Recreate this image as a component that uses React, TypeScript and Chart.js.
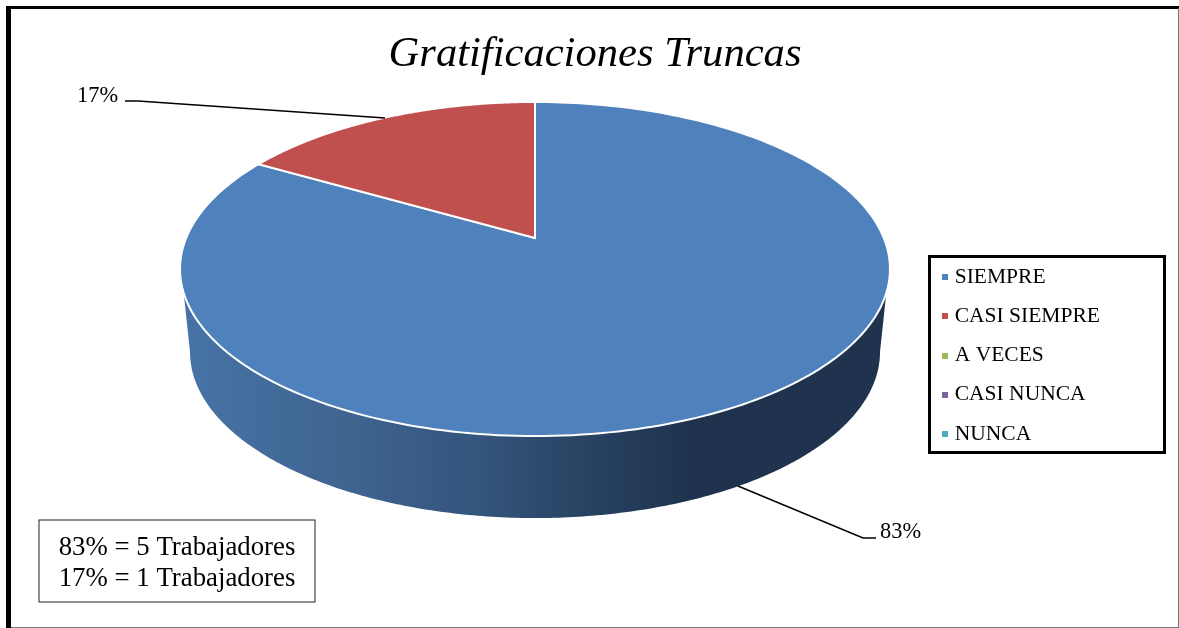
import React, { useEffect, useRef } from "react";
import { Chart, registerables } from "chart.js";

Chart.register(...registerables);

const TITLE = "Gratificaciones Truncas";
const CATEGORIES = ["SIEMPRE", "CASI SIEMPRE", "A VECES", "CASI NUNCA", "NUNCA"];
const WORKERS = [5, 1, 0, 0, 0];
const COLORS = ["#4F81BD", "#C0504D", "#9BBB59", "#8064A2", "#4BACC6"];
const SERIF = '"Liberation Serif", serif';

// perspective of the tilted disc: centre, half-width, half-depth, foreshortening
const TOP_DISC = { cx: 535, cy: 238, a: 348.8, k: 161.3, p: 0.1856 };
const BASE_DISC = { cx: 535, cy: 321.2, a: 339, k: 160.3, p: 0.1856 };

function project(d: typeof TOP_DISC, angle: number) {
  const s = Math.sin(angle);
  const w = 1 - d.p * s;
  return { x: d.cx + (d.a * Math.cos(angle)) / w, y: d.cy + (d.k * s) / w };
}

function traceArc(ctx: CanvasRenderingContext2D, d: typeof TOP_DISC, from: number, to: number, move: boolean) {
  const steps = 240;
  for (let i = 0; i <= steps; i++) {
    const q = project(d, from + ((to - from) * i) / steps);
    if (i === 0 && move) ctx.moveTo(q.x, q.y);
    else ctx.lineTo(q.x, q.y);
  }
}

function legendMarker(color: string) {
  const c = document.createElement("canvas");
  c.width = 14;
  c.height = 6;
  const g = c.getContext("2d")!;
  g.fillStyle = color;
  g.fillRect(6, 0, 6, 6);
  return c;
}

const pct = (i: number) => {
  const total = WORKERS.reduce((a, b) => a + b, 0);
  return Math.round((WORKERS[i] / total) * 100);
};

const pieDecor = {
  id: "pieDecor",
  afterLayout(chart: any) {
    const l = chart.legend;
    l.left = 924.25;
    l.right = 1165;
    l.top = 248.5;
    l.bottom = 620;
    l.width = 240.75;
    l.height = 371.5;
  },
  beforeDraw(chart: any) {
    const ctx = chart.ctx as CanvasRenderingContext2D;
    ctx.save();
    ctx.fillStyle = "#fff";
    ctx.fillRect(0, 0, 1179, 628);
    ctx.fillStyle = "#000";
    ctx.fillRect(6, 6, 1173, 3);
    ctx.fillRect(6, 6, 5, 622);
    ctx.fillStyle = "#777";
    ctx.fillRect(1178, 8, 1, 620);
    ctx.fillRect(11, 627, 1168, 1);
    ctx.strokeStyle = "#000";
    ctx.lineWidth = 3;
    ctx.strokeRect(929.5, 256.5, 235, 196);
    ctx.restore();
  },
  beforeDatasetsDraw(chart: any) {
    const ctx = chart.ctx as CanvasRenderingContext2D;
    const arcs = chart.getDatasetMeta(0).data;
    ctx.save();
    // side wall of the disc
    const grad = ctx.createLinearGradient(185, 0, 885, 0);
    grad.addColorStop(0, "#4773A6");
    grad.addColorStop(0.22, "#3F6591");
    grad.addColorStop(0.42, "#34557C");
    grad.addColorStop(0.55, "#2A4566");
    grad.addColorStop(0.72, "#1F334E");
    grad.addColorStop(1, "#1F334E");
    ctx.beginPath();
    traceArc(ctx, TOP_DISC, 0.326, Math.PI - 0.326, true);
    traceArc(ctx, BASE_DISC, Math.PI - 0.187, 0.187, false);
    ctx.closePath();
    ctx.fillStyle = grad;
    ctx.fill();
    // top face, one wedge per data value, using the library's computed angles
    arcs.forEach((arc: any, i: number) => {
      if (!WORKERS[i]) return;
      const o = arc.options;
      ctx.beginPath();
      ctx.moveTo(TOP_DISC.cx, TOP_DISC.cy);
      traceArc(ctx, TOP_DISC, arc.startAngle, arc.endAngle, false);
      ctx.closePath();
      ctx.fillStyle = o.backgroundColor;
      ctx.fill();
      ctx.strokeStyle = o.borderColor;
      ctx.lineWidth = o.borderWidth;
      ctx.lineJoin = "miter";
      ctx.stroke();
    });
    ctx.restore();
    return false;
  },
  afterDraw(chart: any) {
    const ctx = chart.ctx as CanvasRenderingContext2D;
    ctx.save();
    ctx.strokeStyle = "#000";
    ctx.lineWidth = 1.5;
    ctx.beginPath();
    ctx.moveTo(125, 101);
    ctx.lineTo(138, 101);
    ctx.lineTo(385, 118);
    ctx.moveTo(738, 486);
    ctx.lineTo(863, 538);
    ctx.lineTo(876, 538);
    ctx.stroke();
    ctx.fillStyle = "#000";
    ctx.textBaseline = "middle";
    ctx.textAlign = "left";
    ctx.font = `22.4px ${SERIF}`;
    ctx.fillText(`${pct(1)}%`, 77, 96);
    ctx.fillText(`${pct(0)}%`, 880, 532);
    // note box
    ctx.lineWidth = 1;
    ctx.strokeStyle = "#222";
    ctx.strokeRect(39, 520, 276, 82);
    ctx.textAlign = "center";
    ctx.font = `26.8px ${SERIF}`;
    ctx.fillText(`${pct(0)}% = ${WORKERS[0]} Trabajadores`, 177, 548);
    ctx.fillText(`${pct(1)}% = ${WORKERS[1]} Trabajadores`, 177, 579);
    ctx.restore();
  },
};

export default function App() {
  const ref = useRef<HTMLCanvasElement>(null);
  useEffect(() => {
    const markers = COLORS.map(legendMarker);
    const chart = new Chart(ref.current!, {
      type: "pie",
      data: {
        labels: CATEGORIES,
        datasets: [
          {
            data: WORKERS,
            backgroundColor: COLORS,
            borderColor: "#ffffff",
            borderWidth: 2,
          },
        ],
      },
      plugins: [pieDecor],
      options: {
        responsive: false,
        animation: false,
        layout: { padding: { left: 11 } },
        plugins: {
          tooltip: { enabled: false },
          title: {
            display: true,
            text: TITLE,
            color: "#000",
            font: { family: SERIF, size: 42.6, style: "italic", weight: "normal" },
            padding: { top: 29, bottom: 10 },
          },
          legend: {
            display: true,
            position: "right",
            align: "start",
            labels: {
              color: "#000",
              font: { family: SERIF, size: 21.5 },
              usePointStyle: true,
              pointStyleWidth: 2,
              boxHeight: 6,
              padding: 17.75,
              generateLabels: (c: any) =>
                (Chart as any).overrides.pie.plugins.legend.labels
                  .generateLabels(c)
                  .map((it: any, i: number) => ({ ...it, pointStyle: markers[i] })),
            },
          },
        },
      },
    } as any);
    return () => chart.destroy();
  }, []);
  return (
    <canvas
      ref={ref}
      width={1179}
      height={628}
      style={{ position: "absolute", left: 0, top: 0, display: "block" }}
    />
  );
}
